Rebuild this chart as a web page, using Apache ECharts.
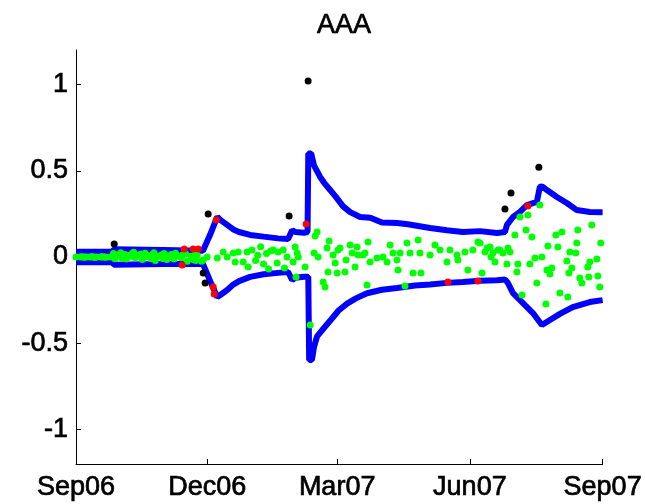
<!DOCTYPE html>
<html>
<head>
<meta charset="utf-8">
<script src="https://cdn.jsdelivr.net/npm/echarts@6/dist/echarts.min.js"></script>
<style>html,body{margin:0;padding:0;background:#fff}#c{width:645px;height:504px}</style>
</head>
<body>
<div id="c"></div>
<script>
// x = days since 1 Sep 2006
var xTickDays = [0, 91, 181, 273, 365];
var xTickLabels = ['Sep06', 'Dec06', 'Mar07', 'Jun07', 'Sep07'];
var yTicks = [-1, -0.5, 0, 0.5, 1];

var upperBand = [[0,0.03],[25.5,0.03],[26.2,0.045],[60,0.04],[88,0.036],[88.5,0.04],[93,0.13],[97.9,0.232],[100,0.215],[104.8,0.186],[109,0.16],[113,0.145],[120.7,0.128],[130,0.118],[140,0.108],[147,0.104],[149.8,0.155],[152,0.145],[158,0.14],[160.5,0.145],[161,0.6],[163,0.6],[165,0.53],[169.2,0.464],[172,0.43],[176,0.39],[180,0.35],[185,0.295],[190,0.26],[196.9,0.232],[204,0.228],[212,0.2],[222.5,0.197],[230,0.19],[245.4,0.168],[257,0.155],[268.2,0.145],[280,0.15],[291.8,0.139],[297.3,0.145],[298.7,0.186],[302.9,0.232],[307.7,0.261],[312.5,0.301],[319.4,0.319],[321.5,0.406],[323,0.41],[326.4,0.388],[333.3,0.348],[340.2,0.313],[347.1,0.272],[356.1,0.261],[365,0.26]];

var lowerBand = [[0,-0.03],[25.5,-0.03],[26.2,-0.045],[60,-0.04],[88,-0.04],[89,-0.05],[93,-0.14],[97.9,-0.232],[100,-0.22],[104.8,-0.191],[109,-0.16],[113,-0.14],[120.7,-0.115],[130,-0.1],[140,-0.092],[147,-0.087],[149.8,-0.133],[152,-0.12],[158,-0.115],[161,-0.115],[161.6,-0.597],[163.5,-0.597],[165,-0.52],[167.1,-0.46],[172,-0.41],[176.1,-0.37],[182,-0.31],[187.9,-0.27],[194,-0.24],[201.7,-0.21],[212,-0.19],[222.5,-0.18],[235,-0.165],[245.4,-0.16],[257,-0.15],[268.2,-0.145],[280,-0.138],[291.8,-0.135],[297.3,-0.13],[299.4,-0.151],[302.9,-0.209],[309.8,-0.267],[316.7,-0.325],[322.9,-0.394],[328.5,-0.365],[335.4,-0.33],[344.3,-0.29],[356.1,-0.261],[365,-0.25]];

var greenPoints = [
[0,0],[3,0],[4,0.002],[5,0],[6,-0.002],[7,0],[10,0],[11,0.003],[12,0],[13,-0.003],[14,0],[17,0],[18,0.002],[19,0],[20,0],[21,-0.002],[24,0],[25,0.005],
[26,0.02],[27,-0.01],[28,0.012],[31,0.025],[32,-0.008],[33,0.01],[34,0.015],[35,-0.012],[38,0.005],[39,0.02],[40,0.028],[41,-0.005],[42,0.01],[45,0.018],[46,-0.015],[47,0.008],[48,0.022],[49,0.003],[52,-0.01],[53,0.015],[54,0.025],[55,-0.02],[56,0.005],[59,0.012],[60,-0.008],[61,0.02],[62,0.01],[63,-0.015],[66,0.015],[67,0.005],[68,-0.012],[69,0.022],[70,0.008],[73,-0.005],[74,0.012],[76,0.018],[77,-0.025],[80,0.005],[81,-0.015],[82,0.01],[83,-0.02],[84,0.012],[87,-0.025],
[88.2,-0.017],[90.9,0],[97.9,-0.006],[102,0.029],[104.8,0],[109,0.023],[110.3,-0.029],[112.4,0.029],[115.9,-0.029],[118.6,0.029],[119.3,-0.058],
[122,0.04],[124.5,-0.02],[126,0.01],[128,0.06],[130,-0.04],[132,0.02],[133.5,-0.07],[135,0.035],
[136.7,0.041],[140.1,0.029],[143.6,0.041],[146.3,0],[139.4,-0.035],[151.9,0.058],[153.3,0.023],[154,0],[150.5,-0.029],[144.5,-0.064],[152.5,-0.116],[158.8,-0.058],
[162.3,-0.394],[167.1,0.145],[165.7,0.122],[175.4,0.093],[165,0.023],[167.8,0],[174,0.052],[178.2,0.012],[183,0.052],[181.6,0.041],[179.6,-0.035],[174.7,-0.087],[171.3,-0.145],[172.6,-0.174],[181,-0.093],[186.5,-0.087],[187.2,-0.017],[190,0.07],[194.8,0.058],[191.4,0.023],[195.5,0.012],[193.4,-0.058],[199,0.012],[200.3,0.023],[202.4,0.087],[203.8,-0.029],[201.7,-0.162],[208.6,-0.006],[212.8,0],[215.6,-0.029],[217.7,0.07],
[219.7,0.023],[222.5,-0.017],[223.2,-0.075],[224.6,0.023],[228,-0.168],[229.4,0.081],[231.5,0.023],[233.6,-0.093],[237.1,0.099],[238.4,0.023],[239.1,-0.093],[245.4,0.012],[248.8,0.07],[252.3,0.041],[257.1,-0.029],[259.2,0.041],[264.1,0.012],[264.7,-0.017],[269.6,0.029],[271.6,-0.075],[275.1,0.041],[278.6,0.087],[280,0.081],[281.4,-0.093],[283.5,0.029],[284.9,0.052],[287,0.058],[287.7,0],[289,0.023],[290.4,-0.029],[292.5,0.041],[293.8,0.041],[295.9,0.023],[298.7,-0.041],[299.4,0.052],[300.8,0.029],
[304.2,0.128],[305.6,-0.087],[306.3,-0.041],[307.7,0.232],[309.1,-0.22],[311.9,0.157],[313.2,0.243],[314.6,-0.041],[316,0.116],[318.1,-0.006],[319.4,-0.151],[321.5,0.301],[322.9,0],[325.7,-0.272],[326.4,-0.075],[327.1,0.064],[328.5,-0.099],[329.8,-0.064],[332.6,0.128],[334,0.058],[335.4,-0.209],[336.8,0.145],[340.2,-0.023],[340.9,-0.232],[341.6,-0.093],[342.3,0.029],[343.7,-0.064],[346.4,0.023],[347.1,0.081],[347.8,0.157],[349.2,-0.122],[350.6,-0.151],[354.7,-0.058],[355.4,-0.116],[356.1,-0.029],[357.5,0.186],[361,-0.012],[361.7,-0.11],[363,-0.174],[363.7,0.081]
];

var redPoints = [[73.6,-0.046],[75,0.046],[81.2,0.046],[84.7,0.046],[95.1,-0.174],[95.8,-0.214],[97.2,0.214],[159.5,0.191],[257.8,-0.145],[278.6,-0.139],[313.2,0.296]];

var blackPoints = [[26.5,0.075],[88.2,-0.093],[89.5,-0.151],[91.6,0.249],[147.7,0.238],[160.9,1.02],[297.3,0.278],[301.5,0.371],[320.8,0.52]];

var FONT = '"Liberation Sans", Arial, Helvetica, sans-serif';
var textCommon = {fontFamily: FONT, fontSize: 27, color: '#000', textBorderColor: '#000', textBorderWidth: 0.7};
var chart = echarts.init(document.getElementById('c'), null, {renderer: 'canvas'});
chart.setOption({
  animation: false,
  backgroundColor: '#ffffff',
  title: {
    text: 'AAA', left: 339, top: 7, textAlign: 'center',
    textStyle: Object.assign({fontWeight: 'normal'}, textCommon)
  },
  grid: {left: 76, right: 42, top: 50, bottom: 40, containLabel: false},
  xAxis: {
    type: 'value', min: 0, max: 365,
    axisLine: {show: true, onZero: false, lineStyle: {color: '#000', width: 1}},
    axisTick: {show: true, inside: true, length: 5, customValues: xTickDays, lineStyle: {color: '#000'}},
    axisLabel: Object.assign({
      customValues: xTickDays, margin: 10,
      formatter: function (v) { var i = xTickDays.indexOf(v); return i >= 0 ? xTickLabels[i] : ''; }
    }, textCommon),
    splitLine: {show: false}
  },
  yAxis: {
    type: 'value', min: -1.2, max: 1.2,
    axisLine: {show: true, onZero: false, lineStyle: {color: '#000', width: 1}},
    axisTick: {show: true, inside: true, length: 5, customValues: yTicks, lineStyle: {color: '#000'}},
    axisLabel: Object.assign({
      customValues: yTicks, margin: 8,
      formatter: function (v) { return String(v); }
    }, textCommon),
    splitLine: {show: false}
  },
  series: [
    {type: 'line', data: upperBand, symbol: 'none', z: 1, lineStyle: {color: '#0000ff', width: 6}},
    {type: 'line', data: lowerBand, symbol: 'none', z: 1, lineStyle: {color: '#0000ff', width: 6}},
    {type: 'scatter', data: greenPoints, symbolSize: 7, z: 2, itemStyle: {color: '#00ff00', opacity: 1}},
    {type: 'scatter', data: redPoints, symbolSize: 7, z: 3, itemStyle: {color: '#ff0000', opacity: 1}},
    {type: 'scatter', data: blackPoints, symbolSize: 7, z: 4, itemStyle: {color: '#000000', opacity: 1}}
  ]
});
</script>
</body>
</html>
